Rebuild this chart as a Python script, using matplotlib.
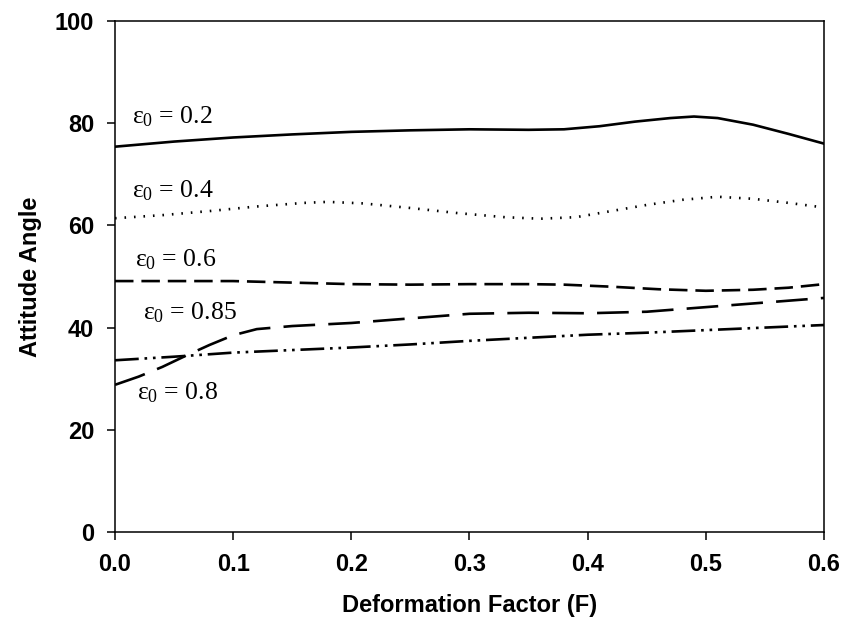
import matplotlib
matplotlib.use('Agg')
import matplotlib.pyplot as plt

plt.rcParams['font.family'] = 'Liberation Sans'
plt.rcParams['mathtext.fontset'] = 'custom'
plt.rcParams['mathtext.rm'] = 'Liberation Serif'
plt.rcParams['mathtext.it'] = 'Liberation Serif'

# eps0 = 0.2 (solid)
f_02 = [0, 0.05, 0.1, 0.15, 0.2, 0.25, 0.3, 0.35, 0.38, 0.41, 0.44, 0.47, 0.49, 0.51, 0.54, 0.57, 0.6]
a_02 = [75.4, 76.4, 77.2, 77.8, 78.3, 78.6, 78.8, 78.7, 78.8, 79.4, 80.3, 81.0, 81.3, 81.0, 79.7, 77.9, 76.0]

# eps0 = 0.4 (dotted)
f_04 = [0, 0.04, 0.08, 0.12, 0.16, 0.18, 0.21, 0.25, 0.29, 0.33, 0.36, 0.39, 0.42, 0.45, 0.48, 0.51, 0.54, 0.57, 0.6]
a_04 = [61.4, 62.0, 62.8, 63.7, 64.4, 64.6, 64.3, 63.4, 62.4, 61.6, 61.3, 61.6, 62.8, 64.0, 65.0, 65.6, 65.2, 64.4, 63.5]

# eps0 = 0.6 (dashed)
f_06 = [0, 0.05, 0.1, 0.15, 0.2, 0.25, 0.3, 0.35, 0.38, 0.42, 0.46, 0.5, 0.54, 0.57, 0.6]
a_06 = [49.1, 49.1, 49.1, 48.8, 48.5, 48.4, 48.5, 48.5, 48.4, 48.0, 47.5, 47.2, 47.4, 47.8, 48.5]

# eps0 = 0.85 (long dash)
f_085 = [0, 0.02, 0.04, 0.06, 0.08, 0.1, 0.12, 0.15, 0.2, 0.25, 0.3, 0.35, 0.4, 0.45, 0.5, 0.55, 0.6]
a_085 = [28.8, 30.4, 32.3, 34.5, 36.6, 38.5, 39.7, 40.3, 40.9, 41.8, 42.7, 42.9, 42.8, 43.1, 44.0, 44.9, 45.8]

# eps0 = 0.8 (dash-dot-dot)
f_08 = [0, 0.05, 0.1, 0.15, 0.2, 0.25, 0.3, 0.35, 0.4, 0.45, 0.5, 0.55, 0.6]
a_08 = [33.6, 34.3, 35.1, 35.6, 36.1, 36.7, 37.4, 38.0, 38.6, 39.0, 39.5, 40.0, 40.5]

labels = ['0.2', '0.4', '0.6', '0.85', '0.8']
label_x = [0.014, 0.014, 0.017, 0.024, 0.019]
label_y = [81.2, 66.7, 53.2, 42.9, 27.2]

fig = plt.figure(figsize=(8.42, 6.26), dpi=100)
ax = fig.add_axes([0.1366, 0.1502, 0.842, 0.8163])

lw = 1.9
ax.plot(f_02, a_02, color='black', lw=lw, ls='-')
ax.plot(f_04, a_04, color='black', lw=lw, ls=(0, (0.6, 3.0)))
ax.plot(f_06, a_06, color='black', lw=lw, ls=(0, (7, 3)))
ax.plot(f_085, a_085, color='black', lw=lw, ls=(0, (12, 5)))
ax.plot(f_08, a_08, color='black', lw=lw, ls=(0, (9, 2.2, 1, 2.2, 1, 2.2)))

for lab, x, y in zip(labels, label_x, label_y):
    ax.text(x, y, r'$\varepsilon_0$ = ' + lab, fontsize=18.5, family='Liberation Serif',
            va='center', ha='left')

ax.set_xlim(0, 0.6)
ax.set_ylim(0, 100)
ax.set_xticks([0, 0.1, 0.2, 0.3, 0.4, 0.5, 0.6])
ax.set_xticklabels(['0.0', '0.1', '0.2', '0.3', '0.4', '0.5', '0.6'])
ax.set_yticks([0, 20, 40, 60, 80, 100])

ax.tick_params(direction='out', length=6, width=1.1, labelsize=17, pad=9)
ax.tick_params(top=False, right=False)
for lbl in ax.get_xticklabels() + ax.get_yticklabels():
    lbl.set_fontweight('bold')
for s in ax.spines.values():
    s.set_linewidth(1.1)

ax.set_xlabel('Deformation Factor (F)', fontsize=17, fontweight='bold', labelpad=13)
ax.set_ylabel('Attitude Angle', fontsize=17, fontweight='bold', labelpad=9)

fig.savefig('out.png', dpi=100)
